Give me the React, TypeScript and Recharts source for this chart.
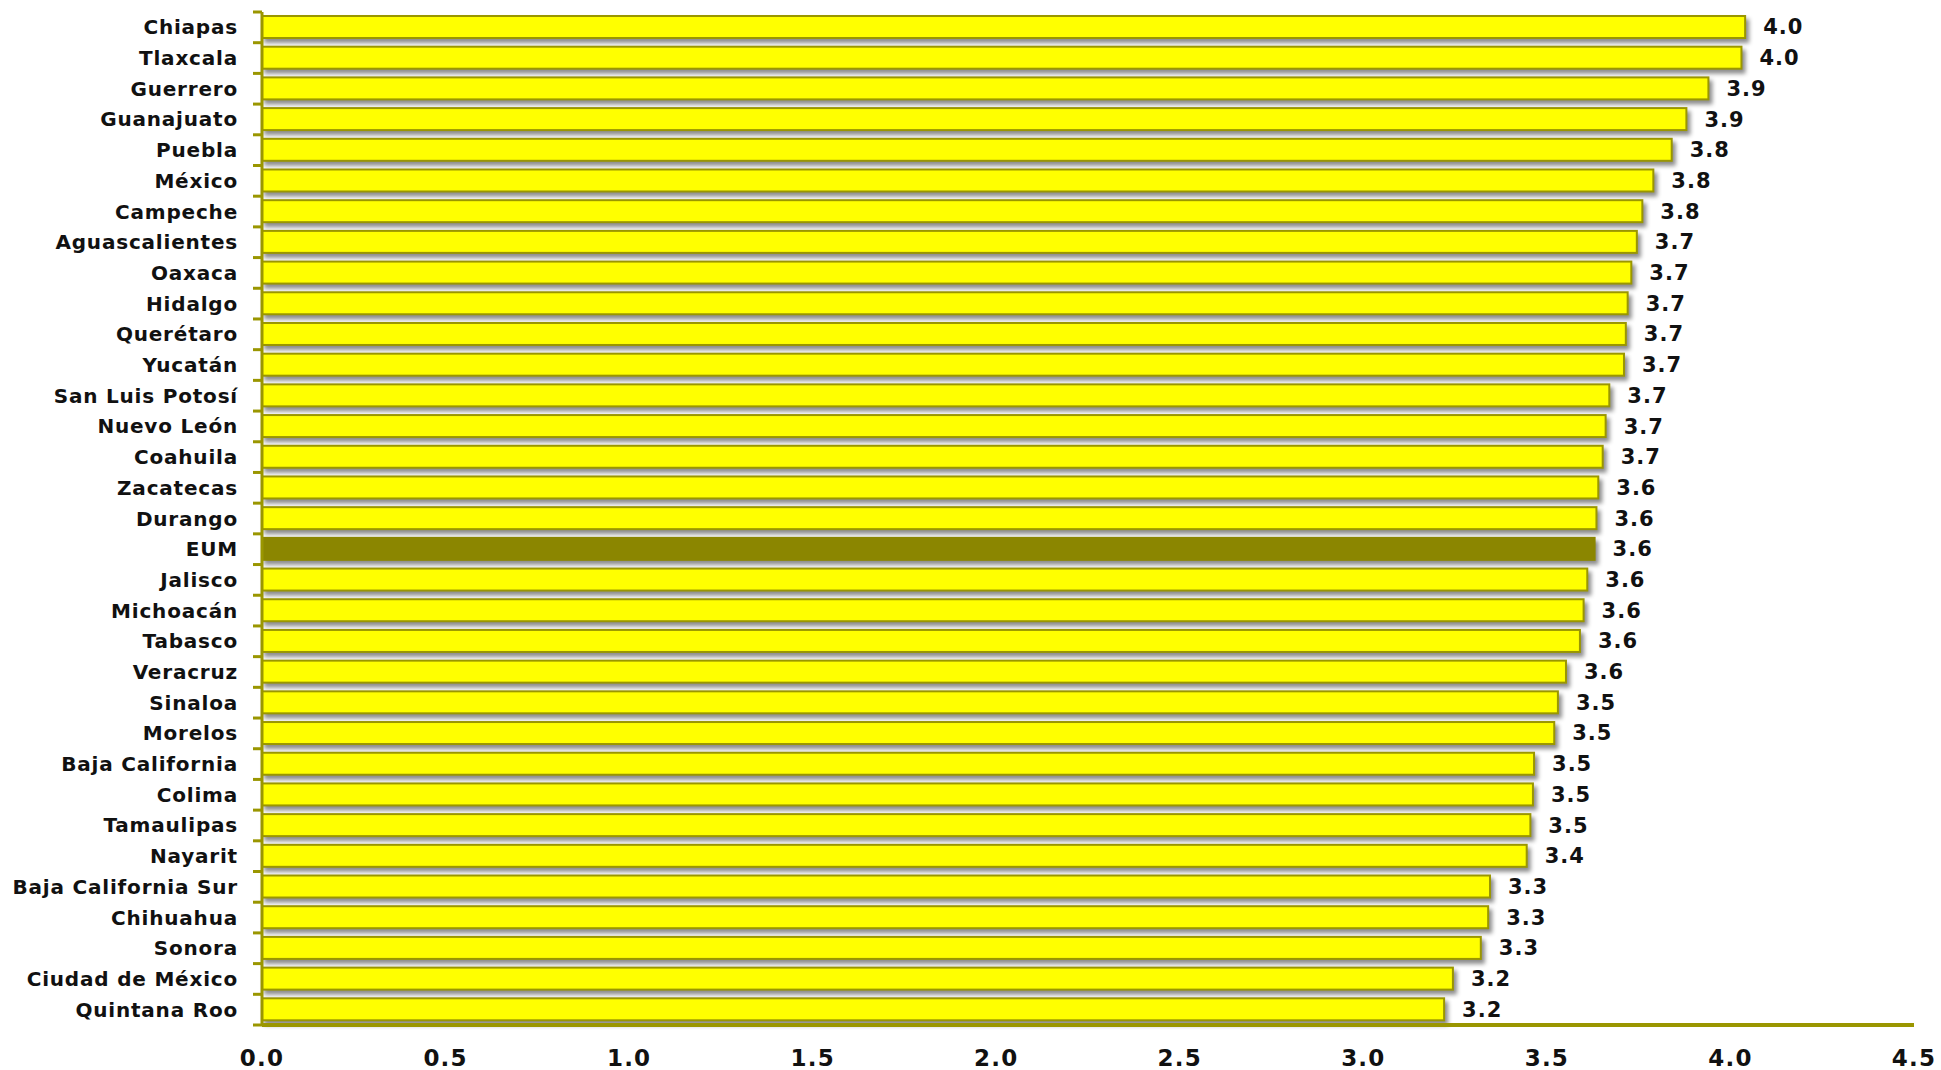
import React from 'react';
import { BarChart, Bar, XAxis, YAxis, Cell, LabelList } from 'recharts';

const states = [
  'Chiapas', 'Tlaxcala', 'Guerrero', 'Guanajuato', 'Puebla', 'México', 'Campeche',
  'Aguascalientes', 'Oaxaca', 'Hidalgo', 'Querétaro', 'Yucatán', 'San Luis Potosí',
  'Nuevo León', 'Coahuila', 'Zacatecas', 'Durango', 'EUM', 'Jalisco', 'Michoacán',
  'Tabasco', 'Veracruz', 'Sinaloa', 'Morelos', 'Baja California', 'Colima',
  'Tamaulipas', 'Nayarit', 'Baja California Sur', 'Chihuahua', 'Sonora',
  'Ciudad de México', 'Quintana Roo',
];

const values = [
  4.04, 4.03, 3.94, 3.88, 3.84, 3.79, 3.76,
  3.745, 3.73, 3.72, 3.715, 3.71, 3.67,
  3.66, 3.652, 3.64, 3.635, 3.63, 3.61, 3.6,
  3.59, 3.552, 3.53, 3.52, 3.465, 3.462,
  3.455, 3.445, 3.345, 3.34, 3.32,
  3.244, 3.22,
];

const xTicks = [0, 0.5, 1, 1.5, 2, 2.5, 3, 3.5, 4, 4.5];

const HIGHLIGHT = 'EUM';

const data = states.map((name, i) => ({ name, value: values[i] }));

const W = 1941;
const H = 1070;
const TOP = 12;
const AXIS_Y = 1025;
const Y_AXIS_W = 262;
const RIGHT = 27;
const BAND = (AXIS_Y - TOP) / states.length;

const OLIVE = '#9a9600';
const FONT = '"DejaVu Sans", Verdana, sans-serif';

const YTick = (props: any) => {
  const { y, payload, index } = props;
  const ax = Y_AXIS_W;
  return (
    <g>
      <line x1={ax - 9} x2={ax} y1={y - BAND / 2} y2={y - BAND / 2} stroke={OLIVE} strokeWidth={3} />
      {index === states.length - 1 && (
        <line x1={ax - 9} x2={ax} y1={y + BAND / 2} y2={y + BAND / 2} stroke={OLIVE} strokeWidth={3} />
      )}
      <text
        x={ax - 24}
        y={y}
        textAnchor="end"
        dominantBaseline="central"
        fontFamily={FONT}
        fontWeight="bold"
        fontSize={20}
        letterSpacing={0.8}
        fill="#111"
      >
        {payload.value}
      </text>
    </g>
  );
};

const XTick = (props: any) => {
  const { x, payload } = props;
  return (
    <text
      x={x}
      y={AXIS_Y + 33}
      textAnchor="middle"
      dominantBaseline="central"
      fontFamily={FONT}
      fontWeight="bold"
      fontSize={23}
      letterSpacing={1.2}
      fill="#111"
    >
      {Number(payload.value).toFixed(1)}
    </text>
  );
};

const BarShape = (props: any) => {
  const { x, y, width, height, fill, stroke } = props;
  return (
    <rect
      x={x}
      y={y}
      width={width}
      height={height}
      fill={fill}
      stroke={stroke}
      strokeWidth={2}
      style={{ filter: 'drop-shadow(3px 4px 2px rgba(0,0,0,0.45))' }}
    />
  );
};

export default function App() {
  return (
    <div style={{ position: 'absolute', left: 0, top: 0, width: W, height: H, background: '#fff' }}>
      <BarChart
        width={W}
        height={H}
        data={data}
        layout="vertical"
        margin={{ top: TOP, right: RIGHT, left: 0, bottom: 0 }}
        barSize={22}
      >
        <XAxis
          type="number"
          domain={[0, 4.5]}
          ticks={xTicks}
          height={H - AXIS_Y}
          axisLine={{ stroke: OLIVE, strokeWidth: 4 }}
          tickLine={false}
          tickSize={0}
          tick={<XTick />}
          interval={0}
        />
        <YAxis
          type="category"
          dataKey="name"
          width={Y_AXIS_W}
          axisLine={{ stroke: OLIVE, strokeWidth: 3 }}
          tickLine={false}
          tickSize={0}
          tick={<YTick />}
          interval={0}
        />
        <Bar dataKey="value" isAnimationActive={false} shape={<BarShape />}>
          {data.map((d) => (
            <Cell
              key={d.name}
              fill={d.name === HIGHLIGHT ? '#8b8600' : '#ffff00'}
              stroke={d.name === HIGHLIGHT ? '#8b8600' : OLIVE}
            />
          ))}
          <LabelList
            dataKey="value"
            position="right"
            offset={18}
            formatter={(v: any) => Number(v).toFixed(1)}
            style={{ fontFamily: FONT, fontWeight: 'bold', fontSize: 21, fill: '#111', letterSpacing: 1 }}
          />
        </Bar>
      </BarChart>
    </div>
  );
}
